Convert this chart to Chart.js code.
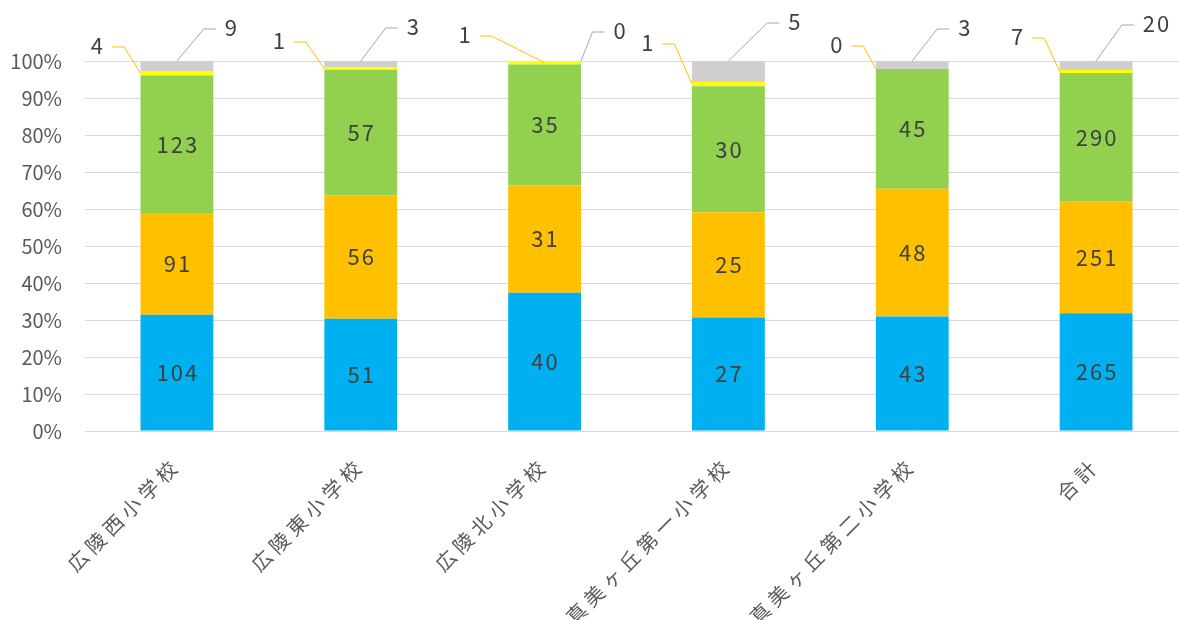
<!DOCTYPE html>
<html>
<head>
<meta charset="utf-8">
<script src="https://cdn.jsdelivr.net/npm/chart.js@4"></script>
<style>
  html, body { margin: 0; padding: 0; background: #fff; overflow: hidden; }
  #wrap { width: 1188px; height: 620px; }
</style>
</head>
<body>
<div id="wrap"><canvas id="myChart" width="1188" height="620"></canvas></div>
<script>
const schools = ['広陵西小学校', '広陵東小学校', '広陵北小学校', '真美ヶ丘第一小学校', '真美ヶ丘第二小学校', '合計'];

// counts per answer group (bottom to top)
const blueCounts = [104, 51, 40, 27, 43, 265];
const orangeCounts = [91, 56, 31, 25, 48, 251];
const greenCounts = [123, 57, 35, 30, 45, 290];
const yellowCounts = [4, 1, 1, 1, 0, 7];
const grayCounts = [9, 3, 0, 5, 3, 20];

const yTicks = [0, 10, 20, 30, 40, 50, 60, 70, 80, 90, 100];

// where the small outside labels sit, relative to bar centre / 100% line
const yellowLabelDx = [-80, -82, -80, -81, -76, -79];
const yellowLabelDy = [-15, -20, -26, -18, -16, -24];
const yellowAnchorFx = [0, 0, 0.5, 0, 0, 0];
const grayLabelDx = [54, 52, 75, 66, 52, 60];
const grayLabelDy = [-33, -34, -30, -39, -33, -37];
const grayAnchorFx = [0.5, 0.5, 1, 0.5, 0.5, 0.5];

const allCounts = [blueCounts, orangeCounts, greenCounts, yellowCounts, grayCounts];
const totals = schools.map((_, i) => allCounts.reduce((s, arr) => s + arr[i], 0));
const pct = arr => arr.map((v, i) => v / totals[i] * 100);

Chart.defaults.font.family = "'Noto Sans CJK JP', 'Noto Sans', sans-serif";

const labelFont = "22px 'Noto Sans CJK JP', 'Noto Sans', sans-serif";
const labelColor = '#404040';
const labelSpacing = 2;

const segmentLabels = {
    id: 'segmentLabels',
    afterLayout(chart) {
        // wider character spacing on the category labels
        const xs = chart.scales.x;
        if (!xs._spaced) {
            const orig = xs.drawLabels;
            xs.drawLabels = function(area) {
                this.ctx.save();
                this.ctx.letterSpacing = '5px';
                orig.call(this, area);
                this.ctx.restore();
            };
            xs._spaced = true;
        }
    },
    afterDatasetsDraw(chart) {
        const ctx = chart.ctx;
        const top = chart.scales.y.getPixelForValue(100);
        ctx.save();
        ctx.font = labelFont;
        ctx.letterSpacing = labelSpacing + 'px';
        ctx.fillStyle = labelColor;
        ctx.textAlign = 'center';
        ctx.textBaseline = 'middle';

        // values inside the three big segments
        for (let d = 0; d < 3; d++) {
            chart.getDatasetMeta(d).data.forEach((bar, i) => {
                const p = bar.getProps(['x', 'y', 'base'], true);
                ctx.fillText(String(allCounts[d][i]), p.x + labelSpacing / 2, (p.y + p.base) / 2);
            });
        }

        // callout labels for the thin top segments
        const callout = (d, dxs, dys, fxs, side, lineColor) => {
            chart.getDatasetMeta(d).data.forEach((bar, i) => {
                const p = bar.getProps(['x', 'y', 'base', 'width'], true);
                const txt = String(allCounts[d][i]);
                const lx = p.x + dxs[i];
                const ly = top + dys[i];
                const half = (ctx.measureText(txt).width - labelSpacing) / 2;
                const ax = p.x - p.width / 2 + fxs[i] * p.width;
                const ay = d === 3 ? (p.y + p.base) / 2 : p.y;
                const hEnd = lx + side * (half + 9);
                const elbow = hEnd + side * 12;
                ctx.beginPath();
                ctx.moveTo(ax, ay);
                ctx.lineTo(elbow, ly + 1);
                ctx.lineTo(hEnd, ly + 1);
                ctx.strokeStyle = lineColor;
                ctx.lineWidth = 1;
                ctx.stroke();
                ctx.fillStyle = labelColor;
                ctx.fillText(txt, lx + labelSpacing / 2, ly);
            });
        };
        callout(3, yellowLabelDx, yellowLabelDy, yellowAnchorFx, 1, '#FFC000');
        callout(4, grayLabelDx, grayLabelDy, grayAnchorFx, -1, '#A6A6A6');
        ctx.restore();
    }
};

const mkSet = (label, counts, color) => ({
    label: label,
    data: pct(counts),
    backgroundColor: color,
    borderWidth: 0,
    categoryPercentage: 1,
    barPercentage: 0.396
});

const myChart = new Chart(document.getElementById('myChart').getContext('2d'), {
    type: 'bar',
    data: {
        labels: schools,
        datasets: [
            mkSet('blue', blueCounts, '#00B0F0'),
            mkSet('orange', orangeCounts, '#FFC000'),
            mkSet('green', greenCounts, '#92D050'),
            mkSet('yellow', yellowCounts, '#FFFF00'),
            mkSet('gray', grayCounts, '#D0CECE')
        ]
    },
    options: {
        responsive: false,
        animation: false,
        layout: { padding: { top: 61, left: 0, right: 0, bottom: 0 } },
        plugins: {
            legend: { display: false },
            tooltip: { enabled: false }
        },
        scales: {
            x: {
                stacked: true,
                grid: { display: false },
                border: { display: false },
                ticks: {
                    autoSkip: false,
                    minRotation: 45,
                    maxRotation: 45,
                    padding: 14,
                    color: '#595959',
                    font: { size: 20 }
                },
                afterFit: s => { s.height = 189; }
            },
            y: {
                stacked: true,
                min: 0,
                max: 100,
                afterBuildTicks: s => { s.ticks = yTicks.map(v => ({ value: v })); },
                grid: { color: '#D9D9D9', lineWidth: 1, drawTicks: false },
                border: { display: false },
                ticks: {
                    padding: 23,
                    color: '#595959',
                    font: { size: 20 },
                    callback: v => v + '%'
                },
                afterFit: s => { s.width = 85; }
            }
        }
    },
    plugins: [segmentLabels]
});
</script>
</body>
</html>
